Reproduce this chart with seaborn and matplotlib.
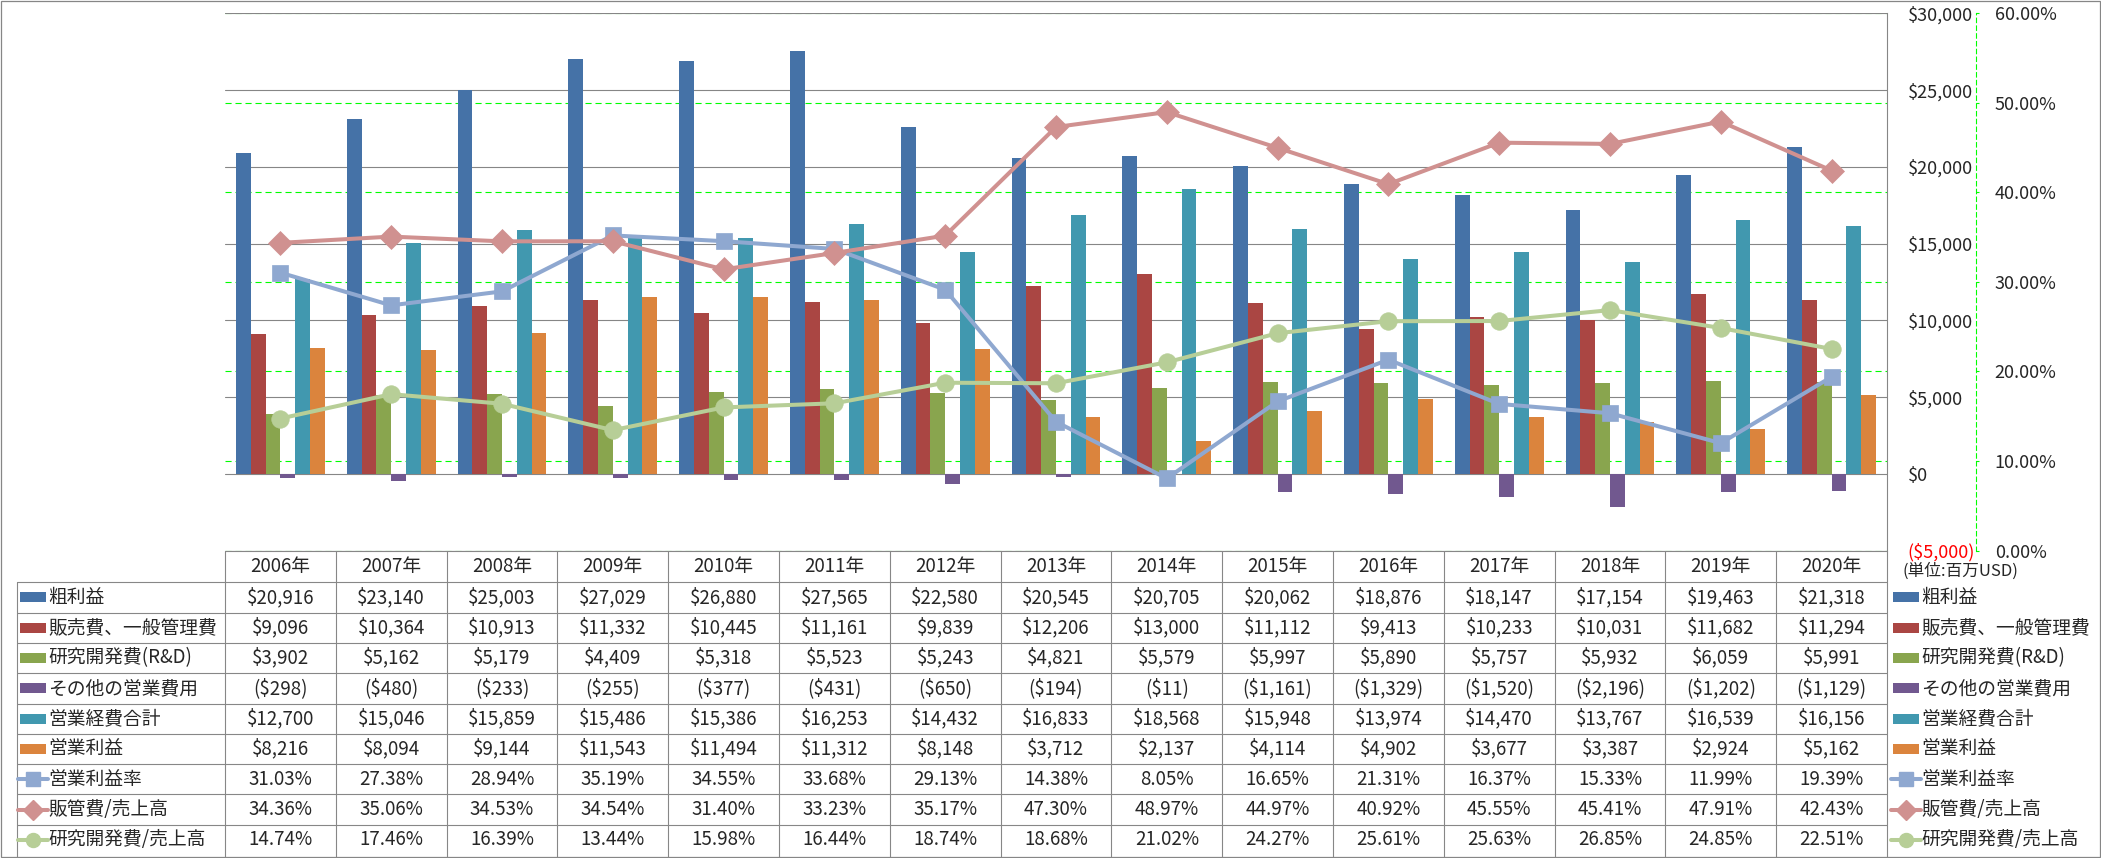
import numpy as np
import pandas as pd
import seaborn as sns
import matplotlib.pyplot as plt
from matplotlib.patches import Rectangle

# ---- data (百万USD) ----
years = [f"{y}年" for y in range(2006, 2021)]

gross = [20916, 23140, 25003, 27029, 26880, 27565, 22580, 20545, 20705, 20062, 18876, 18147, 17154, 19463, 21318]
sga = [9096, 10364, 10913, 11332, 10445, 11161, 9839, 12206, 13000, 11112, 9413, 10233, 10031, 11682, 11294]
rnd = [3902, 5162, 5179, 4409, 5318, 5523, 5243, 4821, 5579, 5997, 5890, 5757, 5932, 6059, 5991]
other = [-298, -480, -233, -255, -377, -431, -650, -194, -11, -1161, -1329, -1520, -2196, -1202, -1129]
opex = [12700, 15046, 15859, 15486, 15386, 16253, 14432, 16833, 18568, 15948, 13974, 14470, 13767, 16539, 16156]
opinc = [8216, 8094, 9144, 11543, 11494, 11312, 8148, 3712, 2137, 4114, 4902, 3677, 3387, 2924, 5162]

op_margin = [31.03, 27.38, 28.94, 35.19, 34.55, 33.68, 29.13, 14.38, 8.05, 16.65, 21.31, 16.37, 15.33, 11.99, 19.39]
sga_ratio = [34.36, 35.06, 34.53, 34.54, 31.40, 33.23, 35.17, 47.30, 48.97, 44.97, 40.92, 45.55, 45.41, 47.91, 42.43]
rnd_ratio = [14.74, 17.46, 16.39, 13.44, 15.98, 16.44, 18.74, 18.68, 21.02, 24.27, 25.61, 25.63, 26.85, 24.85, 22.51]

bar_names = ["粗利益", "販売費、一般管理費", "研究開発費(R&D)", "その他の営業費用", "営業経費合計", "営業利益"]
bar_values = [gross, sga, rnd, other, opex, opinc]
bar_colors = ["#4572A7", "#AA4643", "#89A54E", "#71588F", "#4198AF", "#DB843D"]

line_names = ["営業利益率", "販管費/売上高", "研究開発費/売上高"]
line_values = [op_margin, sga_ratio, rnd_ratio]
line_colors = ["#8FA8D0", "#D09190", "#B7CE97"]
line_markers = ["s", "D", "o"]
line_ms = [12.2, 12.5, 12.6]

wide = pd.DataFrame(dict(zip(bar_names, bar_values)), index=years)
wide.index.name = "年"
long = wide.reset_index().melt(id_vars="年", var_name="項目", value_name="金額")


def usd(v):
    return f"${v:,}" if v >= 0 else f"(${-v:,})"


sns.set_theme(style="white")
plt.rcParams['font.family'] = ['Noto Sans CJK JP', 'DejaVu Sans']

W, H = 2101, 858
fig = plt.figure(figsize=(W / 100, H / 100), dpi=100, facecolor="white")

L, R, T, B = 225, 1887, 13.3, 550.5
ax1 = fig.add_axes([L / W, 1 - B / H, (R - L) / W, (B - T) / H])
ax2 = ax1.twinx()   # percent axis + green grid
ax3 = ax1.twinx()   # lines on top
ax2.set_zorder(0)
ax1.set_zorder(1)
ax3.set_zorder(2)
for a in (ax1, ax2, ax3):
    a.patch.set_visible(False)

# bars
sns.barplot(data=long, x="年", y="金額", hue="項目", hue_order=bar_names,
            palette=bar_colors, saturation=1, width=0.8, errorbar=None,
            linewidth=0, legend=False, ax=ax1)

ticks = np.arange(-5000, 30001, 5000)
ax1.set_ylim(-5000, 30000)
ax1.set_yticks(ticks, labels=[usd(int(t)) for t in ticks])
ax1.yaxis.tick_right()
ax1.tick_params(axis="y", length=0, pad=15, labelsize=13)
for lab, t in zip(ax1.get_yticklabels(), ticks):
    if t < 0:
        lab.set_color("red")
ax1.grid(axis="y", color="#868686", lw=0.8)
ax1.grid(axis="x", visible=False)
ax1.set_axisbelow(True)
ax1.set_xticks([])
ax1.set_xlim(-0.5, len(years) - 0.5)
ax1.set_xlabel("")
ax1.set_ylabel("")
for s in ("left", "top", "bottom"):
    ax1.spines[s].set_visible(False)
ax1.spines["right"].set_color("#868686")
ax1.spines["right"].set_linewidth(0.8)

# percent axis
pct = np.arange(0, 61, 10)
ax2.set_ylim(0, 60)
ax2.set_yticks(pct, labels=[f"{p:.2f}%" for p in pct])
ax2.grid(axis="y", color="#00FF00", lw=0.8, ls=(0, (5.5, 3.5)))
ax2.tick_params(axis="y", length=2.5, width=0.8, color="#00FF00", pad=11, labelsize=13)
for s in ("left", "top", "bottom"):
    ax2.spines[s].set_visible(False)
ax2.spines["right"].set_position(("outward", 64))
ax2.spines["right"].set_color("#00FF00")
ax2.spines["right"].set_linestyle((0, (4, 3)))
ax2.spines["right"].set_linewidth(0.8)

# lines
idx = np.arange(len(years))
for vals, c, m, ms in zip(line_values, line_colors, line_markers, line_ms):
    sns.lineplot(x=idx, y=vals, color=c, marker=m, markersize=ms, markeredgecolor=c,
                 markeredgewidth=0.5, linewidth=2.9, ax=ax3)
ax3.set_ylim(0, 60)
ax3.axis("off")

# ---- data table (pixel coords) ----
axt = fig.add_axes([0, 0, 1, 1])
axt.set_zorder(5)
axt.set_xlim(0, W)
axt.set_ylim(H, 0)
axt.axis("off")

gc = "#878787"
col_w = (R - L) / len(years)
xs = L + col_w * np.arange(len(years) + 1)
head_top, row_top, row_h = 550.5, 582.3, 30.3
tab_left = 16.7
n_rows = len(bar_names) + len(line_names)
ys = row_top + row_h * np.arange(n_rows + 1)

axt.plot([L, R], [head_top, head_top], color=gc, lw=0.8)
for y in ys[:-1]:
    axt.plot([tab_left, R], [y, y], color=gc, lw=0.8)
axt.plot([tab_left, tab_left], [row_top, H], color=gc, lw=0.8)
for x in xs:
    axt.plot([x, x], [head_top, H], color=gc, lw=0.8)
axt.add_patch(Rectangle((0.5, 0.5), W - 1.5, H - 1.5, fill=False, ec="#868686", lw=0.9))

fs = 13.5
for i, yl in enumerate(years):
    axt.text(xs[i] + col_w / 2, (head_top + row_top) / 2, yl, ha="center", va="center", fontsize=fs)

row_labels = bar_names + line_names
row_texts = [[usd(v) for v in vals] for vals in bar_values] + \
            [[f"{v:.2f}%" for v in vals] for vals in line_values]


def key(x0, yc, r):
    if r < len(bar_names):
        axt.add_patch(Rectangle((x0, yc - 5), 26, 10, color=bar_colors[r], lw=0))
    else:
        k = r - len(bar_names)
        axt.plot([x0 - 2, x0 + 28], [yc, yc], color=line_colors[k], lw=2.9,
                 solid_capstyle="round")
        axt.plot([x0 + 13], [yc], marker=line_markers[k], ms=line_ms[k] * 0.8,
                 color=line_colors[k], mec=line_colors[k])


for r in range(n_rows):
    yc = (ys[r] + ys[r + 1]) / 2
    key(20, yc, r)
    axt.text(48, yc, row_labels[r], ha="left", va="center", fontsize=fs)
    for i, t in enumerate(row_texts[r]):
        axt.text(xs[i] + col_w / 2, yc, t, ha="center", va="center", fontsize=fs)
    # right legend
    key(1893, yc, r)
    axt.text(1921, yc, row_labels[r], ha="left", va="center", fontsize=fs)

axt.text(1903, 571, "(単位:百万USD)", ha="left", va="center", fontsize=12)

fig.savefig("out.png", dpi=100, facecolor="white")
